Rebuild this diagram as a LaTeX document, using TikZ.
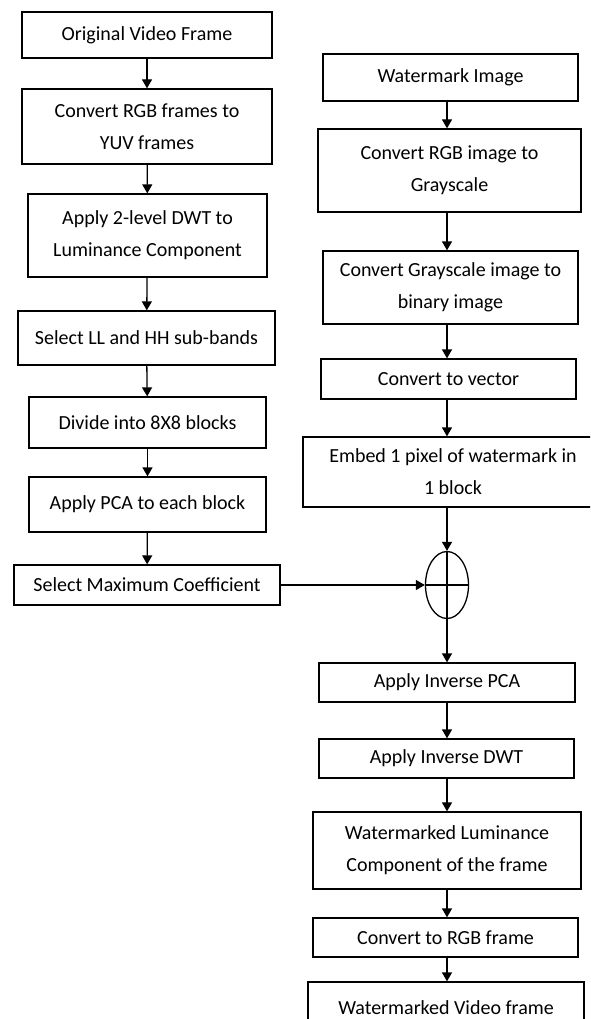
\documentclass[tikz,border=0pt]{standalone}
\usepackage{fontspec}
\setmainfont{Carlito}
\usetikzlibrary{arrows.meta,shapes.geometric}

\begin{document}
\begin{tikzpicture}[x=1pt,y=-1pt,font=\fontsize{20}{32}\selectfont,
  stage/.style={draw,line width=1.3pt,align=center,inner sep=0pt},
  flow/.style={-{Triangle[width=10pt,length=9pt]},line width=1.3pt}]
\useasboundingbox (0,0) rectangle (590,1019);
\clip (0,0) rectangle (590,1019);
% video branch
\node[stage,minimum width=250,minimum height=46] (orig) at (147,35) {Original Video Frame};
\node[stage,minimum width=250,minimum height=75] (yuv) at (147,126.5) {Convert RGB frames to\\YUV frames};
\node[stage,minimum width=239,minimum height=83] (dwt) at (147.5,235.5) {Apply 2-level DWT to\\Luminance Component};
\node[stage,minimum width=257,minimum height=54] (band) at (146.5,338) {Select LL and HH sub-bands};
\node[stage,minimum width=237,minimum height=51] (blk) at (147.5,422.5) {Divide into 8X8 blocks};
\node[stage,minimum width=237,minimum height=55] (pca) at (147.5,504.5) {Apply PCA to each block};
\node[stage,minimum width=266,minimum height=40] (maxc) at (147,585) {Select Maximum Coefficient};
% watermark branch
\node[stage,minimum width=255,minimum height=47] (wimg) at (450.5,77.5) {Watermark Image};
\node[stage,minimum width=263,minimum height=83] (gray) at (449.5,170.5) {Convert RGB image to\\Grayscale};
\node[stage,minimum width=255,minimum height=73] (bin) at (450.5,287.5) {Convert Grayscale image to\\binary image};
\node[stage,minimum width=255,minimum height=40] (vec) at (448.5,379) {Convert to vector};
\node[stage,minimum width=300,minimum height=70] (emb) at (453,472) {Embed 1 pixel of watermark in\\1 block};
\node[draw,ellipse,line width=1.3pt,minimum width=43,minimum height=67,inner sep=0pt] (sum) at (447,585) {};
\draw[line width=1.3pt] (sum.north) -- (sum.south) (sum.west) -- (sum.east);
% output branch
\node[stage,minimum width=256,minimum height=39] (ipca) at (447,682.5) {Apply Inverse PCA};
\node[stage,minimum width=255,minimum height=39] (idwt) at (446.5,758.5) {Apply Inverse DWT};
\node[stage,minimum width=268,minimum height=77] (wlum) at (447,850.5) {Watermarked Luminance\\Component of the frame};
\node[stage,minimum width=265,minimum height=39] (torgb) at (445.5,937.5) {Convert to RGB frame};
\node[stage,minimum width=276,minimum height=52] (wvid) at (446,1008) {Watermarked Video frame};
% arrows
\draw[flow] (orig) -- (yuv);
\draw[flow] (yuv) -- (dwt);
\draw[flow] (dwt) -- (band);
\draw[flow] (band) -- (blk);
\draw[flow] (blk) -- (pca);
\draw[flow] (pca) -- (maxc);
\draw[flow] (wimg.south -| sum) -- (gray.north -| sum);
\draw[flow] (gray.south -| sum) -- (bin.north -| sum);
\draw[flow] (bin.south -| sum) -- (vec.north -| sum);
\draw[flow] (vec.south -| sum) -- (emb.north -| sum);
\draw[flow] (emb.south -| sum) -- (sum.north);
\draw[flow] (maxc.east) -- (sum.west);
\draw[flow] (sum.south) -- (ipca.north -| sum);
\draw[flow] (ipca.south -| sum) -- (idwt.north -| sum);
\draw[flow] (idwt.south -| sum) -- (wlum.north -| sum);
\draw[flow] (wlum.south -| sum) -- (torgb.north -| sum);
\draw[flow] (torgb.south -| sum) -- (wvid.north -| sum);
\end{tikzpicture}
\end{document}
